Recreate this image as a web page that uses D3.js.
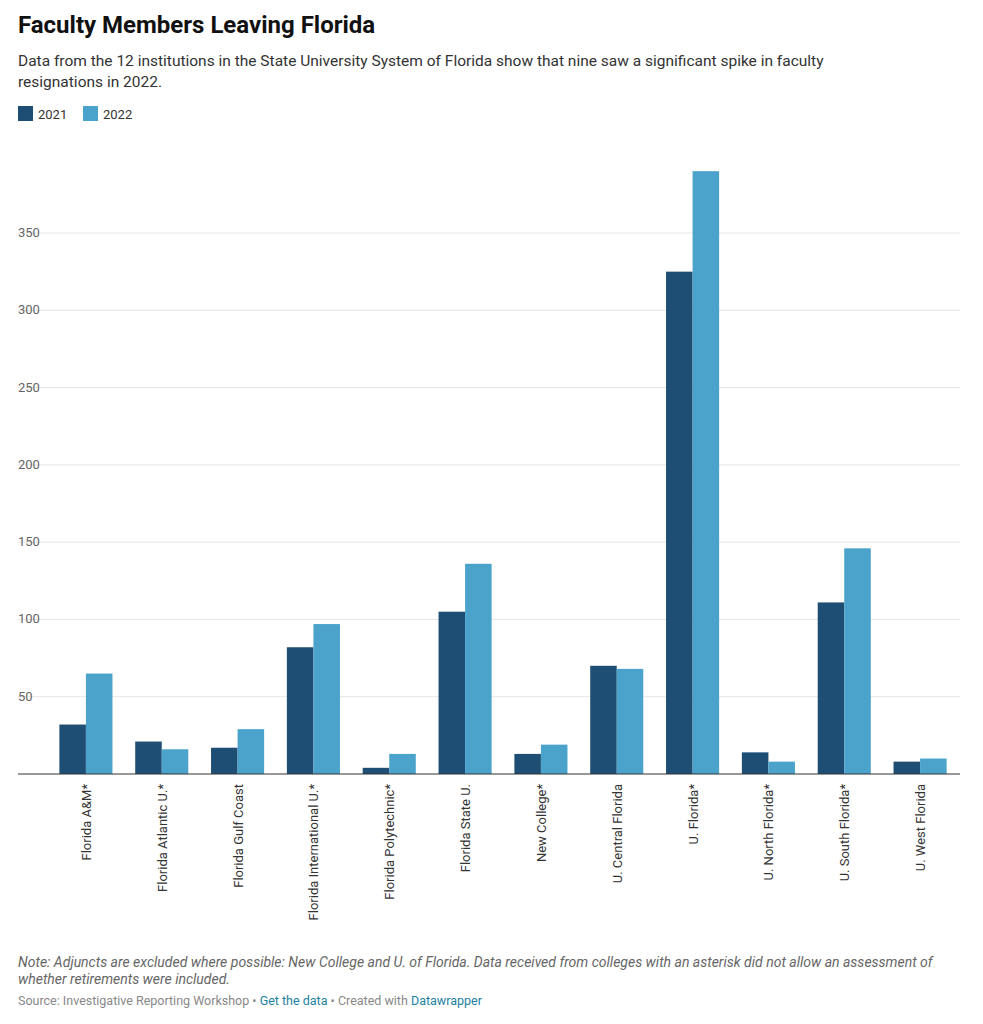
<!DOCTYPE html>
<html><head><meta charset="utf-8">
<script src="https://cdn.jsdelivr.net/npm/d3@7"></script>
<style>
body{margin:0;background:#fff;font-family:Roboto,"Noto Sans",sans-serif;color:#333}
</style></head><body>
<div id="chart"></div>
<script>
var institutions = ["Florida A&M*","Florida Atlantic U.*","Florida Gulf Coast","Florida International U.*","Florida Polytechnic*","Florida State U.","New College*","U. Central Florida","U. Florida*","U. North Florida*","U. South Florida*","U. West Florida"];
var values2021 = [32,21,17,82,4,105,13,70,325,14,111,8];
var values2022 = [65,16,29,97,13,136,19,68,390,8,146,10];
var years = ["2021","2022"];
var colors = ["#1f4e74","#4ba3cb"];
var yTicks = [50,100,150,200,250,300,350];

var width = 983, height = 1024;
var svg = d3.select("#chart").append("svg").attr("width", width).attr("height", height);

svg.append("text").attr("x",18).attr("y",33).attr("font-size",24).attr("font-weight",700).attr("fill","#111")
  .text("Faculty Members Leaving Florida");
var sub = svg.append("text").attr("font-size",15.5).attr("fill","#333");
sub.append("tspan").attr("x",18).attr("y",66).text("Data from the 12 institutions in the State University System of Florida show that nine saw a significant spike in faculty");
sub.append("tspan").attr("x",18).attr("y",87).text("resignations in 2022.");

var leg = svg.selectAll("g.leg").data(years).enter().append("g")
  .attr("transform",(d,i)=>`translate(${18+i*65},106)`);
leg.append("rect").attr("width",15).attr("height",15).attr("fill",(d,i)=>colors[i]);
leg.append("text").attr("x",20).attr("y",12.5).attr("font-size",13).attr("fill","#333").text(d=>d);

var y = d3.scaleLinear().domain([0,350]).range([774,233]);
var x0 = d3.scaleBand().domain(institutions).range([48,958]).paddingInner(0.3).paddingOuter(0.15);
var x1 = d3.scaleBand().domain(years).range([0,x0.bandwidth()]);

var grid = svg.append("g");
grid.selectAll("line").data(yTicks).enter().append("line")
  .attr("x1",18).attr("x2",960).attr("y1",d=>y(d)).attr("y2",d=>y(d))
  .attr("stroke","#e6e6e6");
grid.selectAll("text").data(yTicks).enter().append("text")
  .attr("x",18).attr("y",d=>y(d)+4).attr("font-size",13).attr("fill","#666").text(d=>d);

var groups = svg.selectAll("g.grp").data(institutions).enter().append("g")
  .attr("transform",d=>`translate(${x0(d)},0)`);
groups.selectAll("rect").data((d,i)=>[values2021[i],values2022[i]]).enter().append("rect")
  .attr("x",(d,j)=>x1(years[j])).attr("width",x1.bandwidth())
  .attr("y",d=>y(d)).attr("height",d=>y(0)-y(d)).attr("fill",(d,j)=>colors[j]);

svg.append("line").attr("x1",18).attr("x2",960).attr("y1",y(0)).attr("y2",y(0)).attr("stroke","#333");

svg.selectAll("text.xl").data(institutions).enter().append("text")
  .attr("class","xl").attr("font-size",13).attr("fill","#333").attr("text-anchor","end")
  .attr("transform",d=>`translate(${x0(d)+x0.bandwidth()/2+5},784) rotate(-90)`).text(d=>d);

var note = svg.append("text").attr("font-size",14).attr("font-style","italic").attr("fill","#666");
note.append("tspan").attr("x",18).attr("y",967).text("Note: Adjuncts are excluded where possible: New College and U. of Florida. Data received from colleges with an asterisk did not allow an assessment of");
note.append("tspan").attr("x",18).attr("y",984).text("whether retirements were included.");
var src = svg.append("text").attr("x",18).attr("y",1005).attr("font-size",12.5).attr("fill","#888");
src.append("tspan").text("Source: Investigative Reporting Workshop • ");
src.append("tspan").attr("fill","#1d81a2").text("Get the data");
src.append("tspan").text(" • Created with ");
src.append("tspan").attr("fill","#1d81a2").text("Datawrapper");
</script></body></html>
